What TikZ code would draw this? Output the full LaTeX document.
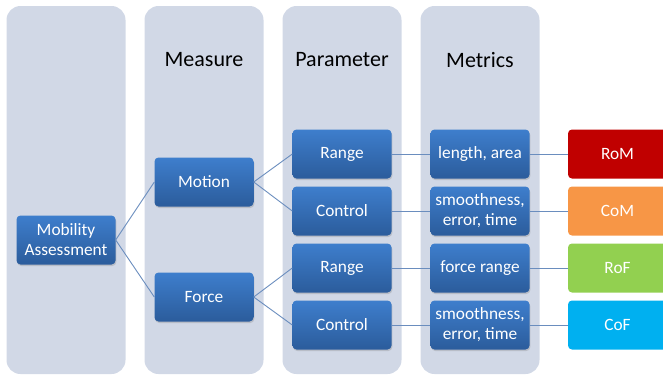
\documentclass[tikz,border=0pt]{standalone}
\usepackage{fontspec}
\setmainfont{Carlito}
\usetikzlibrary{shadows}
\definecolor{panel}{HTML}{D1D8E6}
\definecolor{btop}{HTML}{3E7ECC}
\definecolor{bbot}{HTML}{2B5C9C}
\definecolor{conn}{HTML}{6A8DBE}
\definecolor{cRoM}{HTML}{C00000}
\definecolor{cCoM}{HTML}{F79646}
\definecolor{cRoF}{HTML}{92D050}
\definecolor{cCoF}{HTML}{00B0F0}
\tikzset{
  panelbox/.style={fill=panel, draw=none, rounded corners=14pt, minimum width=119pt, minimum height=368pt, inner sep=0pt},
  header/.style={font=\fontsize{22}{25}\selectfont, text=black, inner sep=0pt},
  bluebox/.style={rounded corners=4pt, top color=btop, bottom color=bbot, draw=none, text=white,
    font=\fontsize{17.3}{20}\selectfont, minimum width=99pt, minimum height=49pt, align=center, inner sep=1pt,
    drop shadow={opacity=0.3, shadow xshift=0.8pt, shadow yshift=-1.5pt}},
  colbox/.style={rounded corners=4pt, draw=none, text=white,
    font=\fontsize{17.3}{20}\selectfont, minimum width=99pt, minimum height=49pt, align=center, inner sep=1pt},
  link/.style={draw=conn, line width=0.9pt},
}
\begin{document}
\begin{tikzpicture}[x=1pt,y=-1pt]
\useasboundingbox (0,0) rectangle (663,376);
\clip (0,0) rectangle (663,376);
% panels
\node[panelbox] (p1) at (66,190) {};
\node[panelbox] (p2) at (204,190) {};
\node[panelbox] (p3) at (342,190) {};
\node[panelbox] (p4) at (480,190) {};
% headers
\node[header] (h2) at (204,60) {Measure};
\node[header] (h3) at (342,60) {Parameter};
\node[header] (h4) at (480,60) {Metrics};
% boxes
\node[bluebox] (ma) at (66,240) {Mobility\\Assessment};
\node[bluebox] (motion) at (204,182) {Motion};
\node[bluebox] (force) at (204,297) {Force};
\node[bluebox] (r1) at (342,154) {Range};
\node[bluebox] (c1) at (342,211) {Control};
\node[bluebox] (r2) at (342,268) {Range};
\node[bluebox] (c2) at (342,325) {Control};
\node[bluebox] (m1) at (480,154) {length, area};
\node[bluebox] (m2) at (480,211) {smoothness,\\error, time};
\node[bluebox] (m3) at (480,268) {force range};
\node[bluebox] (m4) at (480,325) {smoothness,\\error, time};
\node[colbox, fill=cRoM] (rom) at (617.5,154) {RoM};
\node[colbox, fill=cCoM] (com) at (617.5,211) {CoM};
\node[colbox, fill=cRoF] (rof) at (617.5,268) {RoF};
\node[colbox, fill=cCoF] (cof) at (617.5,325) {CoF};
% connectors
\draw[link] (ma.east) -- (motion.west);
\draw[link] (ma.east) -- (force.west);
\draw[link] (motion.east) -- (r1.west);
\draw[link] (motion.east) -- (c1.west);
\draw[link] (force.east) -- (r2.west);
\draw[link] (force.east) -- (c2.west);
\draw[link] (r1.east) -- (m1.west);
\draw[link] (c1.east) -- (m2.west);
\draw[link] (r2.east) -- (m3.west);
\draw[link] (c2.east) -- (m4.west);
\draw[link] (m1.east) -- (rom.west);
\draw[link] (m2.east) -- (com.west);
\draw[link] (m3.east) -- (rof.west);
\draw[link] (m4.east) -- (cof.west);
\end{tikzpicture}
\end{document}
